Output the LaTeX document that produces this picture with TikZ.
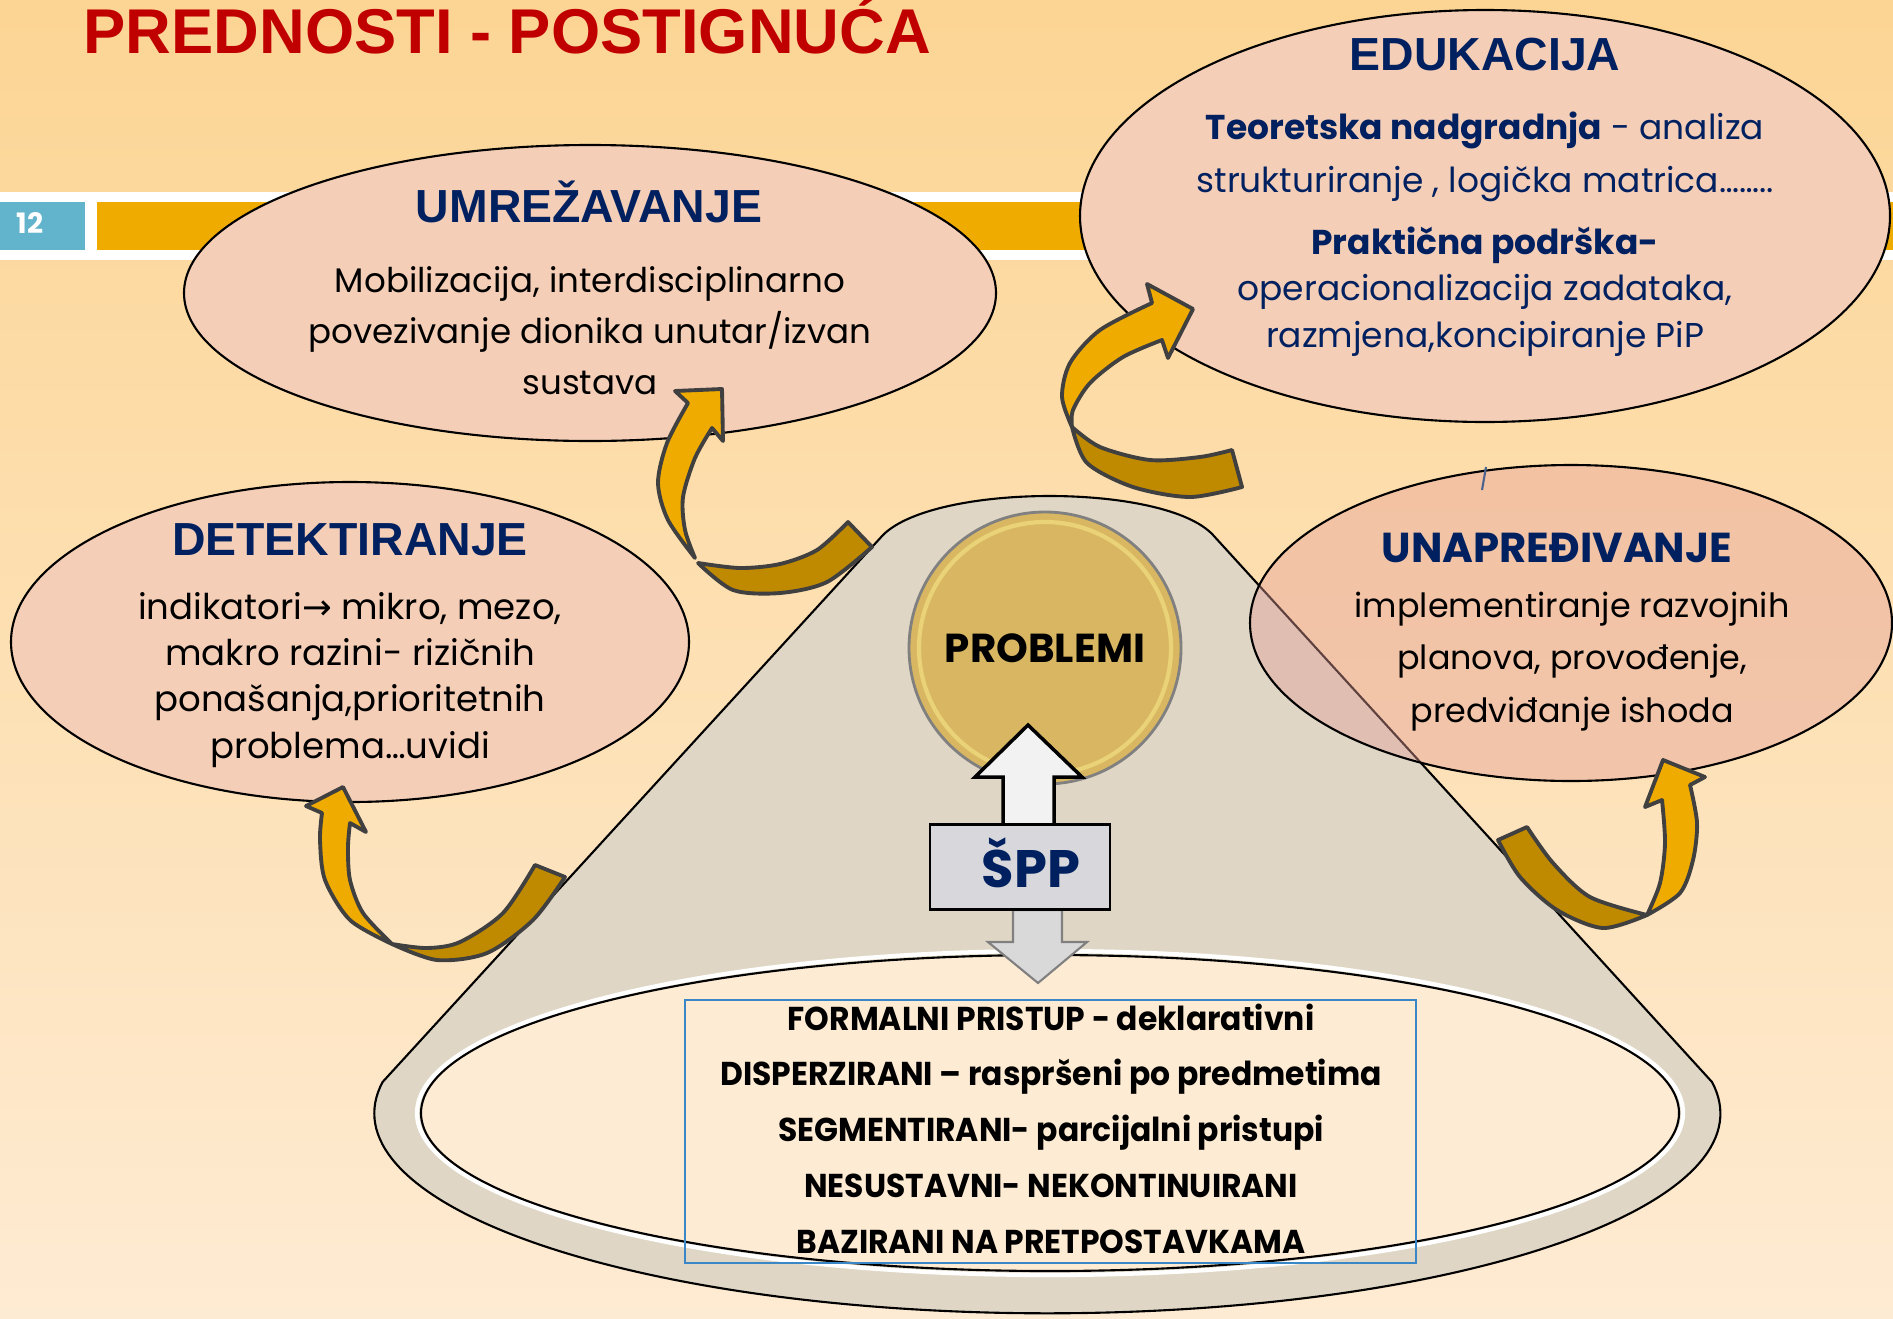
\documentclass[tikz,border=0pt]{standalone}
\usepackage{fontspec}
\setmainfont{Poppins}
\newfontfamily\headfnt{Liberation Sans}
\newfontfamily\boxfnt[FakeStretch=0.95]{Poppins}
\newfontfamily\arrowfnt{DejaVu Sans}
\usetikzlibrary{shapes.geometric}

\definecolor{navy}{RGB}{0,32,96}
\definecolor{titlered}{RGB}{192,0,0}
\definecolor{bgtop}{RGB}{252,213,148}
\definecolor{bgmid}{RGB}{254,230,196}
\definecolor{bgbot}{RGB}{254,235,211}
\definecolor{barorange}{RGB}{240,171,0}
\definecolor{numblue}{RGB}{98,179,204}
\definecolor{peach}{RGB}{244,206,183}
\definecolor{rosefill}{RGB}{228,158,152}
\definecolor{conegray}{RGB}{224,214,197}
\definecolor{probgold}{RGB}{217,183,98}
\definecolor{probshine}{RGB}{240,222,130}
\definecolor{ribbonlight}{RGB}{240,171,0}
\definecolor{ribbondark}{RGB}{191,138,0}
\definecolor{ribbonline}{RGB}{64,64,64}
\definecolor{boxblue}{RGB}{58,135,200}
\definecolor{sppgray}{RGB}{216,216,220}

\begin{document}
\begin{tikzpicture}[x=0.1mm, y=-0.1mm,
    bubble/.style={ellipse, draw, line width=0.6pt, fill=peach, inner sep=0pt},
    head/.style={font=\headfnt\bfseries\fontsize{13.2}{15}\selectfont, text=navy, anchor=base, inner sep=0pt},
    body/.style={align=center, anchor=base, inner sep=0pt},
    ribbon/.style={draw=ribbonline, line width=1.1pt, line join=round, fill=ribbonlight},
    ribbonback/.style={ribbon, fill=ribbondark}]
  \useasboundingbox (0,0) rectangle (1893,1318);
  \shade[top color=bgtop, middle color=bgmid, bottom color=bgbot] (0,0) rectangle (1893,1318);

  % slide bar
  \fill[white] (0,192) rectangle (1893,260);
  \fill[numblue] (0,202) rectangle (85,250);
  \fill[barorange] (97,202) rectangle (1893,250);
  \node[text=white, font=\bfseries\fontsize{8}{9}\selectfont, anchor=base, inner sep=0pt] (num) at (30,233) {12};

  \node[font=\headfnt\bfseries\fontsize{18}{20}\selectfont, text=titlered, anchor=base west, inner sep=0pt] (title) at (83,53) {PREDNOSTI - POSTIGNUĆA};

  \node[bubble, minimum width=81.2mm, minimum height=29.6mm] (umr) at (590,293) {};
  \node[bubble, minimum width=81mm, minimum height=41.2mm] (edu) at (1485,216) {};

  % cone
  \draw[fill=conegray, line width=0.6pt, line join=round]
    (883,535) .. controls (935,483) and (1165,483) .. (1213,535)
    -- (1712,1082) arc[start angle=-9, end angle=189, x radius=673, y radius=200]
    -- cycle;
  \draw[white, line width=1.2pt] (1050,1113) ellipse [x radius=633, y radius=162];
  \draw[fill=bgbot, line width=0.6pt] (1050,1113) ellipse [x radius=629, y radius=158];

  \node[bubble, minimum width=67.8mm, minimum height=32mm] (det) at (350,642) {};
  \node[bubble, fill=rosefill, fill opacity=0.42, minimum width=64.2mm, minimum height=31.6mm] (una) at (1571,623) {};
  \draw[navy!70, line width=0.6pt] (1486,467) -- (1482,490);

  \node[circle, draw=gray, line width=0.8pt, fill=probgold, minimum size=27.2mm, inner sep=0pt,
        font=\bfseries\fontsize{11.5}{13}\selectfont] (prob) at (1045,648) {PROBLEMI};
  \draw[probshine, line width=1.2pt, opacity=0.7] (prob.center) circle [radius=126];

  \draw[fill=white!95!black, line width=1pt]
    (1003,825) -- (1003,777) -- (975,777) -- (1028,725) -- (1082,777) -- (1054,777) -- (1054,825) -- cycle;
  \draw[fill=black!15, draw=gray, line width=0.6pt]
    (1013,910) -- (1013,942) -- (988,942) -- (1038,983) -- (1087,942) -- (1062,942) -- (1062,910) -- cycle;
  \node[draw, line width=0.6pt, fill=sppgray, minimum width=18mm, minimum height=8.5mm, inner sep=0pt] (spp) at (1020,867) {};
  \node[anchor=base, inner sep=0pt, text=navy, font=\bfseries\fontsize{15}{17}\selectfont] (sppT) at (1031,887) {ŠPP};

  \node[draw=boxblue, line width=0.6pt, minimum width=73.1mm, minimum height=26.3mm, inner sep=0pt] (list) at (1050.5,1131.5) {};
  \node[body, font=\boxfnt\bfseries\fontsize{9.4}{15.85}\selectfont] (listT) at (1051,1253)
    {FORMALNI PRISTUP - deklarativni\\DISPERZIRANI – raspršeni po predmetima\\SEGMENTIRANI- parcijalni pristupi\\NESUSTAVNI- NEKONTINUIRANI\\BAZIRANI NA PRETPOSTAVKAMA};

  % texts in the bubbles
  \node[head] (umrT) at (589,222) {UMREŽAVANJE};
  \node[body, font=\fontsize{9.7}{14.5}\selectfont] (umrB) at (590,394)
    {Mobilizacija, interdisciplinarno\\povezivanje dionika unutar/izvan\\sustava};
  \node[head] (eduT) at (1485,70) {EDUKACIJA};
  \node[body, text=navy, font=\fontsize{9.8}{14.8}\selectfont] (eduB) at (1485,192)
    {\textbf{Teoretska nadgradnja} - analiza\\strukturiranje , logička matrica……..};
  \node[body, text=navy, font=\fontsize{9.8}{13.1}\selectfont] (eduC) at (1485,347)
    {\textbf{Praktična podrška-}\\operacionalizacija zadataka,\\razmjena,koncipiranje PiP};
  \node[head] (detT) at (350,555) {DETEKTIRANJE};
  \node[body, font=\fontsize{10.1}{13.1}\selectfont] (detB) at (350,758)
    {indikatori{\arrowfnt→} mikro, mezo,\\makro razini- rizičnih\\ponašanja,prioritetnih\\problema…uvidi};
  \node[head, font=\bfseries\fontsize{11.9}{13}\selectfont] (unaT) at (1557,562) {UNAPREĐIVANJE};
  \node[body, font=\fontsize{9.5}{14.8}\selectfont] (unaB) at (1572,722)
    {implementiranje razvojnih\\planova, provođenje,\\predviđanje ishoda};

  % curved arrows
  \draw[ribbonback] (848,522) -- (872,547)
    -- plot[smooth] coordinates {(872,547) (827,582) (780,593) (733,590) (698,563)}
    -- plot[smooth] coordinates {(698,563) (740,568) (780,564) (817,550) (848,522)} -- cycle;
  \draw[ribbon] plot[smooth] coordinates {(695,558) (668,520) (658,483) (667,443) (688,403)}
    -- (675,391) -- (722,389) -- (723,441) -- (712,428)
    -- plot[smooth] coordinates {(712,428) (695,458) (683,497) (685,530) (695,558)} -- cycle;

  \draw[ribbonback] (1232,450) -- (1242,487)
    -- plot[smooth] coordinates {(1242,487) (1190,497) (1133,487) (1087,463) (1072,427)}
    -- plot[smooth] coordinates {(1072,427) (1100,447) (1150,460) (1200,457) (1232,450)} -- cycle;
  \draw[ribbon] plot[smooth] coordinates {(1072,427) (1062,397) (1070,363) (1100,330) (1152,303)}
    -- (1147,284) -- (1193,309) -- (1168,358) -- (1162,340)
    -- plot[smooth] coordinates {(1162,340) (1123,357) (1090,383) (1073,410) (1072,427)} -- cycle;

  \draw[ribbonback] (535,865) -- (565,877)
    -- plot[smooth] coordinates {(565,877) (533,920) (487,953) (437,960) (392,944)}
    -- plot[smooth] coordinates {(392,944) (427,948) (460,942) (503,913) (535,865)} -- cycle;
  \draw[ribbon] plot[smooth] coordinates {(392,944) (350,920) (325,880) (320,840) (322,813)}
    -- (306,806) -- (343,787) -- (366,832) -- (350,823)
    -- plot[smooth] coordinates {(350,823) (348,847) (350,880) (363,913) (392,944)} -- cycle;

  \draw[ribbonback] (1527,827) -- (1498,840)
    -- plot[smooth] coordinates {(1498,840) (1520,877) (1557,910) (1603,928) (1647,915)}
    -- plot[smooth] coordinates {(1647,915) (1590,897) (1553,863) (1527,827)} -- cycle;
  \draw[ribbon] plot[smooth] coordinates {(1647,915) (1660,883) (1665,843) (1662,800)}
    -- (1645,807) -- (1663,760) -- (1705,777) -- (1690,785)
    -- plot[smooth] coordinates {(1690,785) (1697,823) (1693,860) (1680,893) (1647,915)} -- cycle;
\end{tikzpicture}
\end{document}
